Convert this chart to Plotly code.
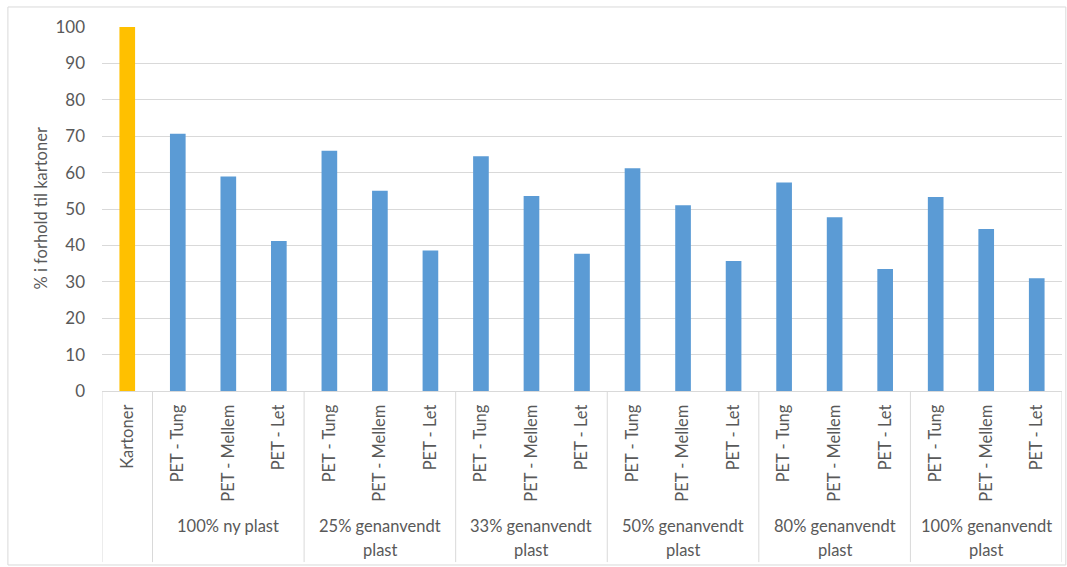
import plotly.graph_objects as go

# Packaging options and their footprint relative to cartons (%)
groups = ["", "100% ny plast", "25% genanvendt<br>plast", "33% genanvendt<br>plast",
          "50% genanvendt<br>plast", "80% genanvendt<br>plast", "100% genanvendt<br>plast"]
group_items = [
    ["Kartoner"],
    ["PET - Tung", "PET - Mellem", "PET - Let"],
    ["PET - Tung", "PET - Mellem", "PET - Let"],
    ["PET - Tung", "PET - Mellem", "PET - Let"],
    ["PET - Tung", "PET - Mellem", "PET - Let"],
    ["PET - Tung", "PET - Mellem", "PET - Let"],
    ["PET - Tung", "PET - Mellem", "PET - Let"],
]
group_values = [
    [100.0],
    [70.7, 58.9, 41.2],
    [66.0, 55.0, 38.6],
    [64.5, 53.6, 37.7],
    [61.2, 51.0, 35.7],
    [57.3, 47.7, 33.5],
    [53.3, 44.5, 31.0],
]
y_ticks = [0, 10, 20, 30, 40, 50, 60, 70, 80, 90, 100]

ORANGE = "#FFC000"
BLUE = "#5B9BD5"
GRID = "#D9D9D9"
TEXT = "#595959"
FONT = "Lato, 'Open Sans', sans-serif"

labels, values, colors = [], [], []
for gi, (items, vals) in enumerate(zip(group_items, group_values)):
    for it, v in zip(items, vals):
        labels.append(it)
        values.append(v)
        colors.append(ORANGE if gi == 0 else BLUE)
xs = list(range(len(labels)))

fig = go.Figure(go.Bar(x=xs, y=values, marker=dict(color=colors, line_width=0),
                       width=0.31, hoverinfo="skip"))

shapes = []
annotations = []
# group dividers and group labels beneath the category labels
# (each label line placed separately for Office-like line spacing)
LINE_TOP = -0.337
LINE_STEP = 0.068
start = 0
bounds = [-0.5]
for g, items in zip(groups, group_items):
    end = start + len(items)
    bounds.append(end - 0.5)
    if g:
        for li, line in enumerate(g.split("<br>")):
            annotations.append(dict(x=(start + end - 1) / 2, y=LINE_TOP - li * LINE_STEP,
                                    xref="x", yref="paper", text=line, showarrow=False,
                                    xanchor="center", yanchor="top",
                                    font=dict(family=FONT, size=16.5, color=TEXT)))
    start = end
for b in bounds:
    shapes.append(dict(type="line", xref="x", yref="paper", x0=b, x1=b, y0=0, y1=-0.47,
                       line=dict(color=GRID, width=1)))

# outer chart frame
shapes.append(dict(type="rect", xref="paper", yref="paper", x0=-0.098, x1=1.004,
                   y0=-0.478, y1=1.055, line=dict(color=GRID, width=1), layer="below"))

annotations.append(dict(x=-0.064, y=0.5, xref="paper", yref="paper",
                        text="% i forhold til kartoner", textangle=-90, showarrow=False,
                        xanchor="center", yanchor="middle",
                        font=dict(family=FONT, size=16.5, color=TEXT)))

fig.update_layout(
    width=1067, height=567,
    margin=dict(l=102, r=5, t=27, b=176),
    paper_bgcolor="white", plot_bgcolor="white",
    showlegend=False, bargap=0.69,
    shapes=shapes, annotations=annotations,
    font=dict(family=FONT, color=TEXT),
)
fig.update_xaxes(
    range=[-0.5, len(labels) - 0.5], tickmode="array", tickvals=xs, ticktext=labels,
    tickangle=-90, tickfont=dict(family=FONT, size=16.5, color=TEXT),
    showgrid=False, showline=True, linecolor=GRID, linewidth=1, ticks="",
    zeroline=False, ticklabelstandoff=6, fixedrange=True,
)
fig.update_yaxes(
    range=[0, 100], tickmode="array", tickvals=y_ticks,
    tickfont=dict(family=FONT, size=17, color=TEXT),
    showgrid=True, gridcolor=GRID, gridwidth=1, zeroline=False, showline=False,
    ticks="", ticklabelstandoff=16, fixedrange=True,
)

fig.write_html("out.html")
